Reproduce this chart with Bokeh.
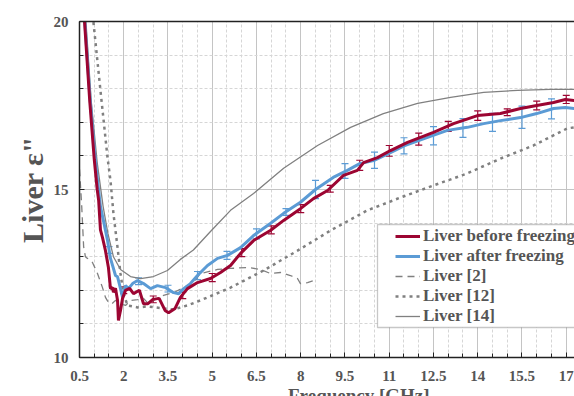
from bokeh.plotting import figure
from bokeh.layouts import column
from bokeh.models import (Range1d, FixedTicker, LinearAxis, Legend, LegendItem,
                          BoxAnnotation, Div, ColumnDataSource, Whisker, TeeHead)
from bokeh.embed import file_html
from bokeh.resources import INLINE

# ---------------- data ----------------
red_f = [0.6, 0.67, 0.85, 1.0, 1.1, 1.15, 1.21, 1.28, 1.38, 1.48, 1.55, 1.62, 1.65, 1.72, 1.79,
         1.82, 1.89, 1.96, 2.06, 2.2, 2.33, 2.53, 2.67, 2.82, 2.99, 3.2, 3.4, 3.52, 3.74, 3.92,
         4.16, 4.5, 4.94, 5.28, 5.62, 5.96, 6.4, 6.97, 7.42, 7.99, 8.43, 8.91, 9.45, 9.92, 10.13,
         10.6, 11.04, 11.62, 12.5, 13.18, 13.99, 14.77, 15.45, 16.0, 16.57, 16.97, 17.28]
red_e = [20.8, 20.0, 17.6, 15.9, 15.0, 14.67, 13.8, 13.57, 13.18, 12.68, 12.05, 12.08, 11.94, 12.06, 11.7,
         11.1, 11.4, 11.76, 12.0, 12.06, 11.9, 12.0, 11.6, 11.6, 11.73, 11.76, 11.4, 11.33, 11.46, 11.79,
         12.05, 12.23, 12.35, 12.53, 12.74, 13.1, 13.48, 13.78, 14.08, 14.43, 14.73, 14.97, 15.42, 15.57, 15.8,
         15.95, 16.16, 16.4, 16.7, 16.96, 17.2, 17.26, 17.41, 17.5, 17.59, 17.68, 17.65]

blue_f = [0.62, 0.68, 0.85, 1.0, 1.11, 1.21, 1.31, 1.45, 1.55, 1.72, 1.79, 1.89, 1.96, 2.06, 2.16,
          2.3, 2.47, 2.67, 2.91, 3.14, 3.42, 3.69, 3.86, 4.03, 4.26, 4.5, 4.84, 5.18, 5.52, 5.96,
          6.4, 6.97, 7.42, 7.99, 8.5, 9.1, 9.58, 10.0, 10.47, 11.04, 11.5, 12.3, 12.97, 13.65, 14.2,
          14.77, 15.45, 16.0, 16.57, 16.97, 17.28]
blue_e = [20.8, 20.0, 17.8, 16.2, 15.27, 14.5, 14.08, 13.48, 12.95, 12.44, 12.4, 12.05, 11.79, 12.14, 12.05,
          12.2, 12.29, 12.2, 12.05, 12.14, 12.08, 11.93, 11.9, 12.05, 12.2, 12.44, 12.74, 12.95, 13.04, 13.27,
          13.63, 13.99, 14.29, 14.62, 15.0, 15.36, 15.57, 15.77, 15.86, 16.1, 16.3, 16.55, 16.76, 16.85, 16.96,
          17.05, 17.14, 17.26, 17.41, 17.44, 17.41]

ref2_f = [0.5, 0.57, 0.64, 0.7, 0.77, 0.94, 1.11, 1.28, 1.38, 1.48, 1.6, 1.72, 1.89, 2.06, 2.23,
          2.47, 2.67, 2.84, 3.01, 3.35, 3.69, 4.03, 4.36, 4.6, 5.18, 5.62, 6.2, 6.64, 6.97, 7.31,
          7.65, 7.89, 7.99, 8.23, 8.43]
ref2_e = [15.6, 14.6, 13.3, 13.0, 12.95, 12.83, 12.5, 12.08, 11.79, 11.64, 11.6, 11.7, 11.6, 11.55, 11.7,
          11.72, 11.76, 11.6, 11.7, 11.85, 11.93, 12.08, 12.23, 12.5, 12.62, 12.65, 12.68, 12.62, 12.5, 12.53,
          12.44, 12.35, 12.2, 12.23, 12.29]

ref12_f = [0.9, 0.97, 1.21, 1.45, 1.55, 1.65, 1.79, 1.89, 1.99, 2.13, 2.47, 2.8, 3.35, 3.69, 4.16,
           4.6, 5.62, 6.74, 7.89, 9.01, 10.26, 11.38, 12.5, 13.65, 14.77, 15.89, 17.04, 17.28]
ref12_e = [20.6, 20.0, 17.95, 15.95, 15.27, 14.29, 13.27, 12.5, 11.9, 11.55, 11.49, 11.52, 11.46, 11.43, 11.55,
           11.7, 12.08, 12.59, 13.18, 13.78, 14.38, 14.76, 15.12, 15.48, 15.92, 16.31, 16.82, 16.85]

ref14_f = [0.68, 0.9, 1.1, 1.3, 1.46, 1.65, 1.89, 2.23, 2.57, 3.01, 3.48, 3.92, 4.36, 4.94, 5.62,
           6.4, 7.42, 8.57, 9.69, 10.8, 11.96, 13.08, 14.2, 15.35, 16.47, 17.28]
ref14_e = [20.5, 17.6, 15.8, 14.5, 13.7, 13.0, 12.62, 12.41, 12.35, 12.41, 12.59, 12.92, 13.2, 13.75, 14.38,
           14.88, 15.63, 16.31, 16.85, 17.26, 17.56, 17.74, 17.89, 17.95, 17.98, 17.98]

red_err_f = [2, 3, 4, 5, 6, 7, 8, 9, 10, 11, 12, 13, 14, 15, 16, 17]
red_err_c = [12.0, 11.73, 11.85, 12.38, 13.12, 13.8, 14.43, 15.02, 15.72, 16.15, 16.5, 16.88, 17.2, 17.3, 17.5, 17.68]
red_err_h = [0.1, 0.1, 0.1, 0.12, 0.12, 0.12, 0.12, 0.1, 0.15, 0.16, 0.18, 0.15, 0.14, 0.1, 0.13, 0.12]

blue_err_f = [1.5, 2.5, 3.5, 4.5, 5.5, 6.5, 7.5, 8.5, 9.5, 10.5, 11.5, 12.5, 13.5, 14.5, 15.5, 16.5]
blue_err_c = [13.2, 12.27, 12.05, 12.44, 13.04, 13.68, 14.33, 15.0, 15.55, 15.87, 16.3, 16.6, 16.83, 17.0, 17.15, 17.4]
blue_err_h = [0.1, 0.1, 0.1, 0.12, 0.12, 0.15, 0.1, 0.27, 0.22, 0.24, 0.24, 0.27, 0.28, 0.27, 0.33, 0.3]

x_ticks = [0.5, 2, 3.5, 5, 6.5, 8, 9.5, 11, 12.5, 14, 15.5, 17]
x_minor = [0.5 + 0.5 * i for i in range(36)]
y_ticks = [10, 15, 20]
y_minor = list(range(10, 21))

legend_labels = ["Liver before freezing", "Liver after freezing", "Liver [2]", "Liver [12]", "Liver [14]"]
x_title = "Frequency [GHz]"
y_title = 'Liver ε"'

RED = "#9c0532"
BLUE = "#5b9bd5"
GREY = "#808080"
TXT = "#555555"
FONT = "Liberation Serif"

p = figure(width=574, height=388, x_range=Range1d(0.5, 17.28), y_range=Range1d(10, 20),
           output_backend="svg", toolbar_location=None,
           min_border_left=79, min_border_right=0, min_border_top=21, min_border_bottom=31)
p.background_fill_color = "white"
p.outline_line_color = None

# axes
for ax, tk, mn in ((p.xaxis[0], x_ticks, x_minor), (p.yaxis[0], y_ticks, y_minor)):
    ax.ticker = FixedTicker(ticks=tk, minor_ticks=mn)
    ax.axis_line_color = "#222222"
    ax.axis_line_width = 1.5
    ax.major_tick_line_color = "#222222"
    ax.minor_tick_line_color = "#222222"
    ax.major_tick_in = 5
    ax.major_tick_out = 0
    ax.minor_tick_in = 4
    ax.minor_tick_out = 0
    ax.major_label_text_font = FONT
    ax.major_label_text_font_style = "bold"
    ax.major_label_text_font_size = "15px"
    ax.major_label_text_color = TXT

p.xaxis.major_label_standoff = 13
p.yaxis.major_label_standoff = 11
p.yaxis.axis_label = y_title
p.yaxis.axis_label_text_font = FONT
p.yaxis.axis_label_text_font_style = "bold"
p.yaxis.axis_label_text_font_size = "30px"
p.yaxis.axis_label_text_color = TXT
p.yaxis.axis_label_standoff = 2

top_axis = LinearAxis(ticker=FixedTicker(ticks=[]), major_label_text_font_size="0px",
                      major_tick_in=0, major_tick_out=0, minor_tick_in=0, minor_tick_out=0,
                      axis_line_color="#222222", axis_line_width=1.5)
p.add_layout(top_axis, "above")

for g in (p.xgrid[0], p.ygrid[0]):
    g.grid_line_color = "#c4c4c4"
    g.grid_line_width = 1
    g.minor_grid_line_color = "#d6d6d6"
    g.minor_grid_line_dash = "3 2"
    g.minor_grid_line_width = 1

# reference curves
r14 = p.line(ref14_f, ref14_e, line_color=GREY, line_width=1.3)
r12 = p.line(ref12_f, ref12_e, line_color=GREY, line_width=2.5, line_dash="3 4")
r2 = p.line(ref2_f, ref2_e, line_color=GREY, line_width=1.3, line_dash="7 5")

# measured
rb = p.line(blue_f, blue_e, line_color=BLUE, line_width=3)
rr = p.line(red_f, red_e, line_color=RED, line_width=3)

def add_err(fs, cs, hs, color):
    src = ColumnDataSource(dict(f=fs, lo=[c - h for c, h in zip(cs, hs)], hi=[c + h for c, h in zip(cs, hs)]))
    w = Whisker(source=src, base="f", lower="lo", upper="hi", line_color=color, line_width=1.2,
                upper_head=TeeHead(size=7, line_color=color, line_width=1.2),
                lower_head=TeeHead(size=7, line_color=color, line_width=1.2))
    p.add_layout(w)

add_err(blue_err_f, blue_err_c, blue_err_h, BLUE)
add_err(red_err_f, red_err_c, red_err_h, RED)

# legend box + legend
box = BoxAnnotation(left=298, right=600, top=133, bottom=30,
                    left_units="screen", right_units="screen", top_units="screen", bottom_units="screen",
                    fill_color="white", fill_alpha=1.0, line_color="#444444", line_width=1.3)
p.add_layout(box)

legend = Legend(items=[LegendItem(label=legend_labels[0], renderers=[rr]),
                       LegendItem(label=legend_labels[1], renderers=[rb]),
                       LegendItem(label=legend_labels[2], renderers=[r2]),
                       LegendItem(label=legend_labels[3], renderers=[r12]),
                       LegendItem(label=legend_labels[4], renderers=[r14])],
                location=(316, 31), orientation="vertical",
                padding=0, margin=0, spacing=0,
                glyph_width=25, glyph_height=20, label_height=20, label_standoff=3,
                border_line_color=None, background_fill_alpha=0,
                label_text_font=FONT, label_text_font_style="bold",
                label_text_font_size="17px", label_text_color=TXT)
p.add_layout(legend)

xdiv = Div(text=x_title, width=574, height=26,
           styles={"font-family": FONT, "font-weight": "bold", "font-size": "19px",
                   "color": TXT, "padding-left": "283px", "line-height": "20px",
                   "position": "relative", "top": "-7px", "white-space": "nowrap"})

layout = column(p, xdiv, spacing=0)

open("out.html", "w").write(file_html(layout, INLINE))
